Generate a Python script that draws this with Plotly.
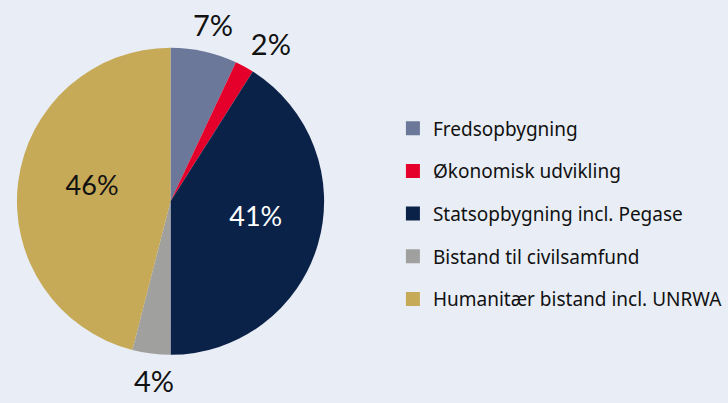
import plotly.graph_objects as go

categories = ["Fredsopbygning", "Økonomisk udvikling", "Statsopbygning incl. Pegase",
              "Bistand til civilsamfund", "Humanitær bistand incl. UNRWA"]
values = [7, 2, 41, 4, 46]
colors = ["#6b7899", "#e4002b", "#0b2248", "#a0a09f", "#c6aa58"]
text_colors = ["#111111", "#111111", "#ffffff", "#111111", "#111111"]

W, H = 728, 403
H_EFF = 393  # vertical extent the page actually gives the plot
bg = "#e9eef6"
PIE_CX, PIE_CY, PIE_R = 171, 207, 158


def domain(cx, cy, r):
    return dict(x=[(cx - r) / W, (cx + r) / W],
                y=[1 - (cy + r) / H_EFF, 1 - (cy - r) / H_EFF])


fig = go.Figure()
# visible pie (no labels)
fig.add_trace(go.Pie(
    labels=categories, values=values, sort=False, direction="clockwise", rotation=0,
    marker=dict(colors=colors, line=dict(width=0)),
    textposition="none", showlegend=False, hoverinfo="label+percent",
    domain=domain(PIE_CX, PIE_CY, PIE_R),
))

# transparent overlay pies carrying the value labels (one label each, so
# plotly does not push neighbouring outside labels apart)
label_layers = [
    # (slice index, position, font size, cx, cy, r)
    (0, "outside", 29, 155, 179, 140),
    (1, "outside", 29, 177, 181, 140),
    (3, "outside", 29, 204, 206, 169),
    (2, "inside", 27, 181, 199, 158),
    (4, "inside", 27, 169, 200, 158),
]
for idx, pos, fs, cx, cy, r in label_layers:
    positions = ["none"] * len(values)
    positions[idx] = pos
    fig.add_trace(go.Pie(
        labels=categories, values=values, sort=False, direction="clockwise", rotation=0,
        marker=dict(colors=["rgba(0,0,0,0)"] * len(values), line=dict(width=0)),
        texttemplate="%{value}%", textposition=positions,
        insidetextorientation="horizontal",
        textfont=dict(family="Lato", size=fs, color=text_colors),
        outsidetextfont=dict(family="Lato", size=fs, color="#111111"),
        showlegend=False, hoverinfo="skip",
        domain=domain(cx, cy, r),
    ))

for cat, col in zip(categories, colors):
    fig.add_trace(go.Scatter(
        x=[None], y=[None], mode="markers", name=cat, legendgroup=cat,
        marker=dict(symbol="square", size=14, color=col, line=dict(width=0)),
        showlegend=True,
    ))

fig.update_layout(
    width=W, height=H, margin=dict(l=0, r=0, t=0, b=0),
    paper_bgcolor=bg, plot_bgcolor=bg,
    xaxis=dict(visible=False), yaxis=dict(visible=False),
    legend=dict(x=394 / W, xanchor="left", y=1 - 220 / H_EFF, yanchor="middle",
                font=dict(family="Noto Sans", size=19, color="#111111"),
                tracegroupgap=15, bgcolor="rgba(0,0,0,0)"),
)
page_js = (
    "var s=document.createElement('style');"
    "s.textContent='html,body{margin:0;padding:0;overflow:hidden;background:%s;}';"
    "document.head.appendChild(s);" % bg
)
fig.write_html("out.html", config={"displayModeBar": False, "responsive": False},
               post_script=page_js)
